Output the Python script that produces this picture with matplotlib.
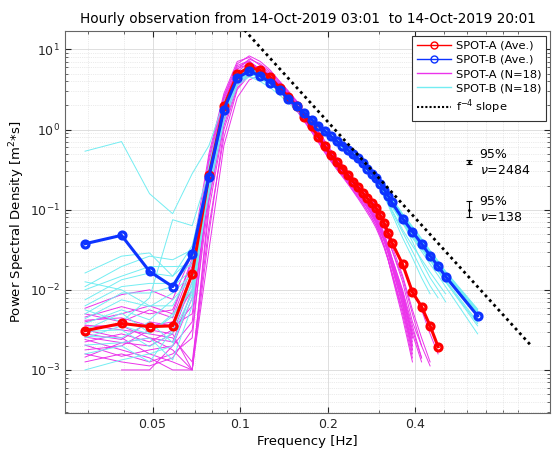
import numpy as np
import matplotlib
matplotlib.use('Agg')
import matplotlib.pyplot as plt
from matplotlib.lines import Line2D
from matplotlib.ticker import FixedLocator, LogLocator, NullFormatter, FixedFormatter

nan = np.nan

# frequency bins [Hz]
freq_a = [0.0293, 0.0391, 0.0488, 0.0586, 0.0684, 0.0781, 0.0879, 0.0977, 0.1074, 0.1172,
          0.1270, 0.1367, 0.1465, 0.1563, 0.1660, 0.1758, 0.1855, 0.1953, 0.2051, 0.2148,
          0.2246, 0.2344, 0.2441, 0.2539, 0.2637, 0.2734, 0.2832, 0.2930, 0.3027, 0.3125,
          0.3223, 0.3320, 0.3613, 0.3906, 0.4199, 0.4492, 0.4785]
freq_b = freq_a + [0.5078, 0.6543]

# averaged spectra, log10(PSD)
ave_a = [-2.51, -2.42, -2.46, -2.45, -1.80, -0.57, 0.29, 0.69, 0.78, 0.74,
         0.65, 0.52, 0.41, 0.29, 0.16, 0.04, -0.09, -0.21, -0.32, -0.41,
         -0.49, -0.57, -0.65, -0.72, -0.79, -0.86, -0.92, -0.98, -1.07, -1.17,
         -1.29, -1.41, -1.68, -2.03, -2.21, -2.45, -2.71]
ave_b = [-1.425, -1.32, -1.77, -1.96, -1.55, -0.59, 0.25, 0.645, 0.73, 0.67,
         0.585, 0.49, 0.38, 0.29, 0.205, 0.125, 0.05, -0.02, -0.085, -0.145,
         -0.20, -0.255, -0.31, -0.36, -0.415, -0.49, -0.55, -0.61, -0.675, -0.75,
         -0.825, -0.91, -1.11, -1.275, -1.425, -1.575, -1.705, -1.835, -2.325]

# hourly spectra SPOT-A, log10(PSD)
runs_a = [
    [-2.23,-2.06,-2.00,-2.12,-1.55,-0.30,0.45,0.85,0.90,0.80,0.70,0.58,0.47,0.36,0.22,0.10,-0.02,-0.14,-0.26,-0.35,-0.44,-0.52,-0.60,-0.67,-0.74,-0.81,-0.88,-0.95,-1.04,-1.15,-1.27,-1.40,-1.70,-2.00,-2.25,-2.55,-2.80],
    [-2.34,-2.21,-2.30,-2.25,-1.65,-0.45,0.35,0.75,0.88,0.82,0.72,0.60,0.48,0.35,0.21,0.08,-0.05,-0.17,-0.28,-0.38,-0.46,-0.55,-0.63,-0.71,-0.78,-0.86,-0.93,-1.01,-1.10,-1.22,-1.36,-1.50,-1.85,-2.30,-2.70,nan,nan],
    [-2.38,-2.35,-2.45,-2.40,-2.00,-0.70,0.20,0.62,0.74,0.71,0.62,0.50,0.38,0.25,0.12,0.00,-0.13,-0.26,-0.37,-0.47,-0.56,-0.65,-0.74,-0.82,-0.90,-0.98,-1.06,-1.15,-1.26,-1.38,-1.52,-1.68,-2.10,-2.60,nan,nan,nan],
    [-2.44,-2.50,-2.55,-2.60,-2.90,-1.20,-0.10,0.50,0.68,0.70,0.63,0.52,0.42,0.30,0.17,0.05,-0.08,-0.20,-0.31,-0.40,-0.49,-0.58,-0.66,-0.74,-0.82,-0.90,-0.98,-1.06,-1.17,-1.30,-1.45,-1.60,-2.00,-2.45,-2.85,nan,nan],
    [-2.59,-2.66,-2.70,-2.55,-3.00,-0.90,0.10,0.60,0.80,0.78,0.68,0.55,0.43,0.30,0.15,0.02,-0.12,-0.25,-0.36,-0.46,-0.55,-0.64,-0.72,-0.80,-0.88,-0.97,-1.06,-1.16,-1.27,-1.40,-1.55,-1.72,-2.20,-2.75,nan,nan,nan],
    [-2.69,-2.83,-2.75,-2.70,-2.40,-0.60,0.30,0.72,0.84,0.76,0.64,0.50,0.37,0.24,0.11,-0.02,-0.15,-0.28,-0.39,-0.49,-0.58,-0.67,-0.76,-0.84,-0.93,-1.01,-1.10,-1.20,-1.32,-1.46,-1.62,-1.80,-2.30,-2.85,nan,nan,nan],
    [-2.84,-2.66,-2.60,-2.75,-3.00,-1.50,-0.20,0.40,0.62,0.68,0.64,0.55,0.45,0.33,0.20,0.07,-0.06,-0.19,-0.30,-0.40,-0.49,-0.58,-0.67,-0.76,-0.85,-0.94,-1.03,-1.13,-1.25,-1.38,-1.53,-1.70,-2.15,-2.70,nan,nan,nan],
    [nan,-3.00,-3.00,-2.70,-2.10,-0.40,0.40,0.80,0.86,0.74,0.62,0.48,0.36,0.24,0.10,-0.03,-0.16,-0.29,-0.40,-0.50,-0.59,-0.68,-0.77,-0.86,-0.95,-1.04,-1.13,-1.23,-1.35,-1.48,-1.63,-1.80,-2.25,-2.80,nan,nan,nan],
    [-2.30,-2.40,-2.25,-2.35,-1.70,-0.35,0.42,0.82,0.92,0.85,0.74,0.60,0.47,0.34,0.20,0.08,-0.04,-0.16,-0.27,-0.37,-0.46,-0.54,-0.62,-0.70,-0.78,-0.85,-0.92,-1.00,-1.10,-1.22,-1.35,-1.50,-1.90,-2.40,-2.70,-2.95,nan],
    [-2.50,-2.60,-2.80,-2.90,-3.00,-1.00,0.05,0.55,0.72,0.72,0.66,0.56,0.45,0.33,0.19,0.06,-0.07,-0.20,-0.31,-0.41,-0.50,-0.59,-0.68,-0.76,-0.84,-0.93,-1.02,-1.11,-1.22,-1.35,-1.49,-1.65,-2.05,-2.55,-2.90,nan,nan],
    [-2.40,-2.30,-2.20,-2.30,-1.60,-0.50,0.30,0.78,0.85,0.74,0.62,0.49,0.37,0.25,0.12,0.00,-0.13,-0.25,-0.36,-0.45,-0.54,-0.63,-0.71,-0.79,-0.87,-0.95,-1.03,-1.12,-1.23,-1.36,-1.50,-1.66,-2.08,-2.60,nan,nan,nan],
    [-2.65,-2.55,-2.65,-2.50,-2.20,-0.80,0.15,0.58,0.70,0.67,0.60,0.48,0.37,0.25,0.12,0.00,-0.13,-0.26,-0.38,-0.48,-0.57,-0.66,-0.75,-0.84,-0.92,-1.01,-1.10,-1.20,-1.32,-1.46,-1.62,-1.78,-2.25,-2.75,nan,nan,nan],
    [-2.75,-2.70,-2.50,-2.55,-1.90,-0.55,0.32,0.70,0.78,0.76,0.68,0.56,0.44,0.31,0.17,0.04,-0.09,-0.21,-0.32,-0.42,-0.51,-0.60,-0.68,-0.76,-0.84,-0.92,-1.00,-1.09,-1.19,-1.31,-1.45,-1.60,-2.02,-2.50,-2.85,nan,nan],
    [-2.90,-2.80,-2.90,-2.80,-2.60,-0.65,0.25,0.65,0.75,0.70,0.61,0.49,0.38,0.26,0.13,0.01,-0.12,-0.24,-0.35,-0.45,-0.54,-0.63,-0.72,-0.80,-0.88,-0.96,-1.05,-1.14,-1.26,-1.39,-1.55,-1.72,-2.18,-2.70,nan,nan,nan],
    [-2.45,-2.45,-2.60,-2.65,-2.00,-0.50,0.38,0.76,0.82,0.75,0.64,0.52,0.40,0.28,0.14,0.02,-0.11,-0.23,-0.34,-0.43,-0.52,-0.61,-0.69,-0.77,-0.85,-0.93,-1.01,-1.10,-1.20,-1.33,-1.47,-1.62,-2.05,-2.55,nan,nan,nan],
    [-2.55,-2.62,-2.40,-2.45,-2.30,-0.75,0.18,0.60,0.74,0.74,0.67,0.57,0.46,0.34,0.21,0.09,-0.03,-0.15,-0.26,-0.36,-0.45,-0.53,-0.61,-0.69,-0.77,-0.84,-0.91,-0.99,-1.08,-1.19,-1.31,-1.45,-1.82,-2.25,-2.60,-2.90,nan],
    [-2.62,-2.75,-2.85,-3.00,-3.00,-1.30,0.00,0.52,0.70,0.71,0.65,0.55,0.44,0.32,0.18,0.05,-0.08,-0.21,-0.32,-0.42,-0.52,-0.61,-0.70,-0.79,-0.88,-0.97,-1.07,-1.17,-1.30,-1.45,-1.62,-1.82,-2.35,-2.90,nan,nan,nan],
    [-2.80,-2.90,-2.95,-2.85,-2.50,-0.85,0.12,0.66,0.80,0.73,0.63,0.51,0.39,0.27,0.14,0.02,-0.11,-0.23,-0.34,-0.44,-0.53,-0.62,-0.71,-0.79,-0.87,-0.95,-1.04,-1.13,-1.24,-1.37,-1.52,-1.68,-2.12,-2.65,nan,nan,nan],
]

# hourly spectra SPOT-B, log10(PSD)
runs_b = [
    [-0.27,-0.15,-0.80,-1.05,-0.55,-0.20,0.35,0.60,0.66,0.60,0.52,0.43,0.33,0.24,0.16,0.08,0.01,-0.06,-0.12,-0.18,-0.23,-0.28,-0.33,-0.38,-0.43,-0.50,-0.56,-0.62,-0.68,-0.75,-0.82,-0.90,-1.10,-1.26,-1.41,-1.56,-1.69,-1.82,-2.30],
    [-1.79,-1.58,-1.54,-1.83,-1.45,-0.55,0.28,0.68,0.76,0.70,0.61,0.51,0.40,0.31,0.22,0.14,0.07,0.00,-0.07,-0.13,-0.19,-0.25,-0.30,-0.35,-0.41,-0.48,-0.54,-0.60,-0.66,-0.74,-0.82,-0.90,-1.10,-1.27,-1.42,-1.57,-1.70,-1.83,-2.33],
    [-1.96,-1.71,-1.58,-1.625,-1.50,-0.70,0.20,0.62,0.72,0.67,0.58,0.48,0.37,0.28,0.19,0.11,0.04,-0.03,-0.10,-0.16,-0.21,-0.27,-0.32,-0.37,-0.43,-0.50,-0.56,-0.63,-0.70,-0.78,-0.86,-0.95,-1.16,-1.32,-1.48,-1.62,-1.76,-1.90,-2.45],
    [-2.00,-1.83,-1.71,-1.71,-1.70,-0.65,0.22,0.64,0.74,0.68,0.60,0.50,0.39,0.30,0.21,0.13,0.05,-0.02,-0.09,-0.15,-0.20,-0.26,-0.31,-0.36,-0.42,-0.48,-0.54,-0.60,-0.67,-0.74,-0.81,-0.89,-1.08,-1.24,-1.39,-1.54,-1.67,-1.80,-2.28],
    [-2.125,-1.875,-1.79,-1.83,-1.60,-0.50,0.30,0.70,0.78,0.71,0.62,0.52,0.41,0.31,0.22,0.13,0.05,-0.02,-0.09,-0.16,-0.22,-0.28,-0.34,-0.40,-0.46,-0.53,-0.60,-0.67,-0.75,-0.84,-0.94,-1.05,-1.35,-1.60,-1.85,-2.05,nan,nan,nan],
    [-2.20,-1.96,-1.92,-1.92,-1.65,-0.60,0.24,0.63,0.71,0.66,0.58,0.48,0.38,0.29,0.20,0.12,0.05,-0.02,-0.08,-0.14,-0.20,-0.25,-0.30,-0.35,-0.40,-0.46,-0.52,-0.58,-0.64,-0.71,-0.78,-0.86,-1.06,-1.22,-1.37,-1.52,-1.65,-1.78,-2.25],
    [-2.30,-2.04,-2.04,-1.96,-1.75,-0.75,0.15,0.58,0.70,0.66,0.58,0.49,0.38,0.29,0.20,0.12,0.04,-0.03,-0.10,-0.16,-0.22,-0.28,-0.33,-0.38,-0.44,-0.51,-0.57,-0.64,-0.71,-0.79,-0.87,-0.96,-1.17,-1.35,-1.52,-1.68,-1.82,-1.96,-2.55],
    [-2.36,-2.125,-2.21,-2.04,-1.80,-0.45,0.32,0.70,0.77,0.69,0.60,0.50,0.39,0.30,0.21,0.12,0.05,-0.02,-0.09,-0.15,-0.21,-0.27,-0.32,-0.37,-0.43,-0.50,-0.56,-0.62,-0.69,-0.77,-0.85,-0.94,-1.15,-1.40,-1.65,-1.85,-2.00,-2.15,nan],
    [-2.42,-2.25,-2.375,-2.125,-1.85,-0.80,0.10,0.55,0.66,0.63,0.56,0.47,0.37,0.28,0.19,0.11,0.04,-0.03,-0.09,-0.15,-0.21,-0.26,-0.31,-0.36,-0.42,-0.48,-0.54,-0.60,-0.66,-0.73,-0.81,-0.89,-1.09,-1.25,-1.40,-1.55,-1.68,-1.81,-2.30],
    [-2.50,-2.29,-2.54,-2.33,-1.95,-0.62,0.26,0.66,0.74,0.68,0.59,0.49,0.38,0.29,0.20,0.12,0.05,-0.02,-0.09,-0.15,-0.21,-0.27,-0.32,-0.38,-0.44,-0.51,-0.58,-0.65,-0.73,-0.82,-0.92,-1.02,-1.28,-1.52,-1.75,-1.95,-2.10,nan,nan],
    [-2.52,-2.50,-2.71,-2.54,-2.05,-0.68,0.21,0.60,0.70,0.66,0.58,0.49,0.39,0.30,0.21,0.13,0.06,-0.01,-0.08,-0.14,-0.19,-0.25,-0.30,-0.35,-0.41,-0.47,-0.53,-0.59,-0.65,-0.72,-0.80,-0.88,-1.07,-1.23,-1.38,-1.53,-1.66,-1.79,-2.28],
    [-2.58,-2.60,-2.40,-2.66,-2.10,-0.72,0.18,0.59,0.69,0.65,0.57,0.48,0.38,0.29,0.20,0.12,0.05,-0.02,-0.08,-0.14,-0.20,-0.25,-0.30,-0.35,-0.41,-0.47,-0.53,-0.59,-0.66,-0.73,-0.81,-0.89,-1.08,-1.24,-1.39,-1.53,-1.66,-1.78,-2.26],
    [-2.69,-2.66,-2.60,-2.875,-2.20,-0.58,0.27,0.64,0.72,0.67,0.59,0.49,0.39,0.30,0.21,0.13,0.06,-0.01,-0.08,-0.14,-0.20,-0.26,-0.31,-0.36,-0.42,-0.49,-0.55,-0.62,-0.69,-0.77,-0.85,-0.94,-1.14,-1.31,-1.47,-1.62,-1.75,-1.88,-2.40],
    [-3.00,-2.875,-2.80,-2.70,-2.00,-0.66,0.23,0.61,0.70,0.65,0.57,0.48,0.37,0.28,0.19,0.11,0.04,-0.03,-0.09,-0.15,-0.21,-0.26,-0.31,-0.36,-0.42,-0.48,-0.54,-0.60,-0.67,-0.74,-0.82,-0.90,-1.10,-1.26,-1.41,-1.56,-1.69,-1.82,-2.32],
    [-2.25,-2.40,-2.10,-1.125,-1.20,-0.52,0.29,0.67,0.75,0.69,0.60,0.50,0.39,0.30,0.21,0.13,0.06,-0.01,-0.07,-0.13,-0.19,-0.24,-0.29,-0.34,-0.40,-0.46,-0.52,-0.58,-0.64,-0.71,-0.78,-0.86,-1.05,-1.21,-1.36,-1.51,-1.64,-1.77,-2.24],
    [-2.80,-2.70,-2.90,-2.50,-1.90,-0.48,0.31,0.69,0.76,0.70,0.61,0.51,0.40,0.31,0.22,0.14,0.06,-0.01,-0.08,-0.14,-0.20,-0.26,-0.31,-0.36,-0.42,-0.49,-0.56,-0.63,-0.71,-0.80,-0.90,-1.00,-1.25,-1.45,-1.62,-1.78,-1.92,-2.05,nan],
    [-1.90,-2.00,-2.20,-2.20,-1.75,-0.62,0.24,0.62,0.71,0.66,0.58,0.48,0.38,0.29,0.20,0.12,0.05,-0.02,-0.09,-0.15,-0.21,-0.26,-0.31,-0.37,-0.43,-0.50,-0.56,-0.63,-0.70,-0.78,-0.86,-0.95,-1.16,-1.33,-1.49,-1.64,-1.77,-1.90,-2.42],
    [-2.60,-2.45,-2.55,-2.30,-2.00,-0.70,0.19,0.60,0.70,0.66,0.58,0.49,0.39,0.30,0.21,0.13,0.06,-0.01,-0.07,-0.13,-0.19,-0.24,-0.29,-0.34,-0.40,-0.46,-0.52,-0.58,-0.64,-0.71,-0.79,-0.87,-1.06,-1.22,-1.37,-1.52,-1.65,-1.78,-2.27],
]

# f^-4 reference line end points
slope_f = [0.1, 1.0]
slope_psd = [20.0, 0.002]

# 95% confidence bars: frequency, centre, lower, upper
ci_f = [0.61, 0.61]
ci_mid = [0.39, 0.10]
ci_lo = [0.369, 0.080]
ci_hi = [0.413, 0.1286]
ci_text = ['95%\n$\\nu$=2484', '95%\n$\\nu$=138']

col_a = (1.0, 0.0, 0.0)
col_b = (0.05, 0.2, 1.0)
col_ma = (0.92, 0.2, 0.92)
col_cy = (0.45, 0.93, 0.95)

plt.rcParams['font.family'] = 'DejaVu Sans'
plt.rcParams['font.size'] = 9

fig = plt.figure(figsize=(5.54, 4.55), dpi=100)
ax = fig.add_axes([0.1173, 0.0923, 0.8755, 0.8396])

for row in runs_a:
    ax.plot(freq_a, 10 ** np.array(row), color=col_ma, lw=0.7, zorder=2)
for row in runs_b:
    ax.plot(freq_b, 10 ** np.array(row), color=col_cy, lw=0.7, zorder=2)

ax.plot(freq_a, 10 ** np.array(ave_a), color=col_a, lw=2.2, marker='o', ms=5,
        mfc='none', mew=2.3, zorder=3)
ax.plot(freq_b, 10 ** np.array(ave_b), color=col_b, lw=2.2, marker='o', ms=5,
        mfc='none', mew=2.3, zorder=3)
ax.plot(slope_f, slope_psd, color='k', lw=2, linestyle=(0, (1, 1.3)), zorder=4)

for f, m, lo, hi, t in zip(ci_f, ci_mid, ci_lo, ci_hi, ci_text):
    ax.errorbar([f], [m], yerr=[[m - lo], [hi - m]], fmt='.', color='k', ms=2,
                lw=0.8, capsize=2.5, capthick=0.8, zorder=5)
    ax.text(f * 1.09, m, t, va='center', ha='left', fontsize=9, linespacing=1.3)

ax.set_xscale('log')
ax.set_yscale('log')
ax.set_xlim(0.025, 1.16)
ax.set_ylim(2.9e-4, 17)

ax.xaxis.set_major_locator(FixedLocator([0.05, 0.1, 0.2, 0.4]))
ax.xaxis.set_major_formatter(FixedFormatter(['0.05', '0.1', '0.2', '0.4']))
ax.xaxis.set_minor_locator(LogLocator(base=10, subs=np.arange(2, 10)))
ax.xaxis.set_minor_formatter(NullFormatter())
ax.yaxis.set_major_locator(LogLocator(base=10, numticks=10))
ax.yaxis.set_minor_locator(LogLocator(base=10, subs=np.arange(2, 10), numticks=20))
ax.yaxis.set_minor_formatter(NullFormatter())

ax.tick_params(which='both', direction='in', top=True, right=True, color='0.3')
ax.tick_params(which='major', length=4, labelsize=9, colors='0.15')
ax.tick_params(which='minor', length=2)
ax.grid(True, which='major', color='0.85', lw=0.6)
ax.grid(True, which='minor', color='0.85', lw=0.5, linestyle=':')
ax.set_axisbelow(True)
for s in ax.spines.values():
    s.set_color('0.4')
    s.set_linewidth(0.8)

ax.set_xlabel('Frequency [Hz]', fontsize=9.5, labelpad=3)
ax.set_ylabel('Power Spectral Density [m$^2$*s]', fontsize=9.5, labelpad=2)
ax.set_title('Hourly observation from 14-Oct-2019 03:01  to 14-Oct-2019 20:01',
             fontsize=9.8, pad=6)

handles = [
    Line2D([], [], color=col_a, lw=1, marker='o', ms=5, mfc='none'),
    Line2D([], [], color=col_b, lw=1, marker='o', ms=5, mfc='none'),
    Line2D([], [], color=col_ma, lw=1),
    Line2D([], [], color=col_cy, lw=1),
    Line2D([], [], color='k', lw=1.5, linestyle=(0, (1, 1))),
]
labels = ['SPOT-A (Ave.)', 'SPOT-B (Ave.)', 'SPOT-A (N=18)', 'SPOT-B (N=18)', 'f$^{-4}$ slope']
leg = ax.legend(handles, labels, loc='upper right', bbox_to_anchor=(0.996, 0.993),
                fontsize=8.2, fancybox=False, framealpha=1, edgecolor='0.2',
                handlelength=3.0, borderpad=0.4, labelspacing=0.38, handletextpad=0.4,
                borderaxespad=0.2)
leg.get_frame().set_linewidth(0.8)

fig.savefig('out.png', dpi=100)
